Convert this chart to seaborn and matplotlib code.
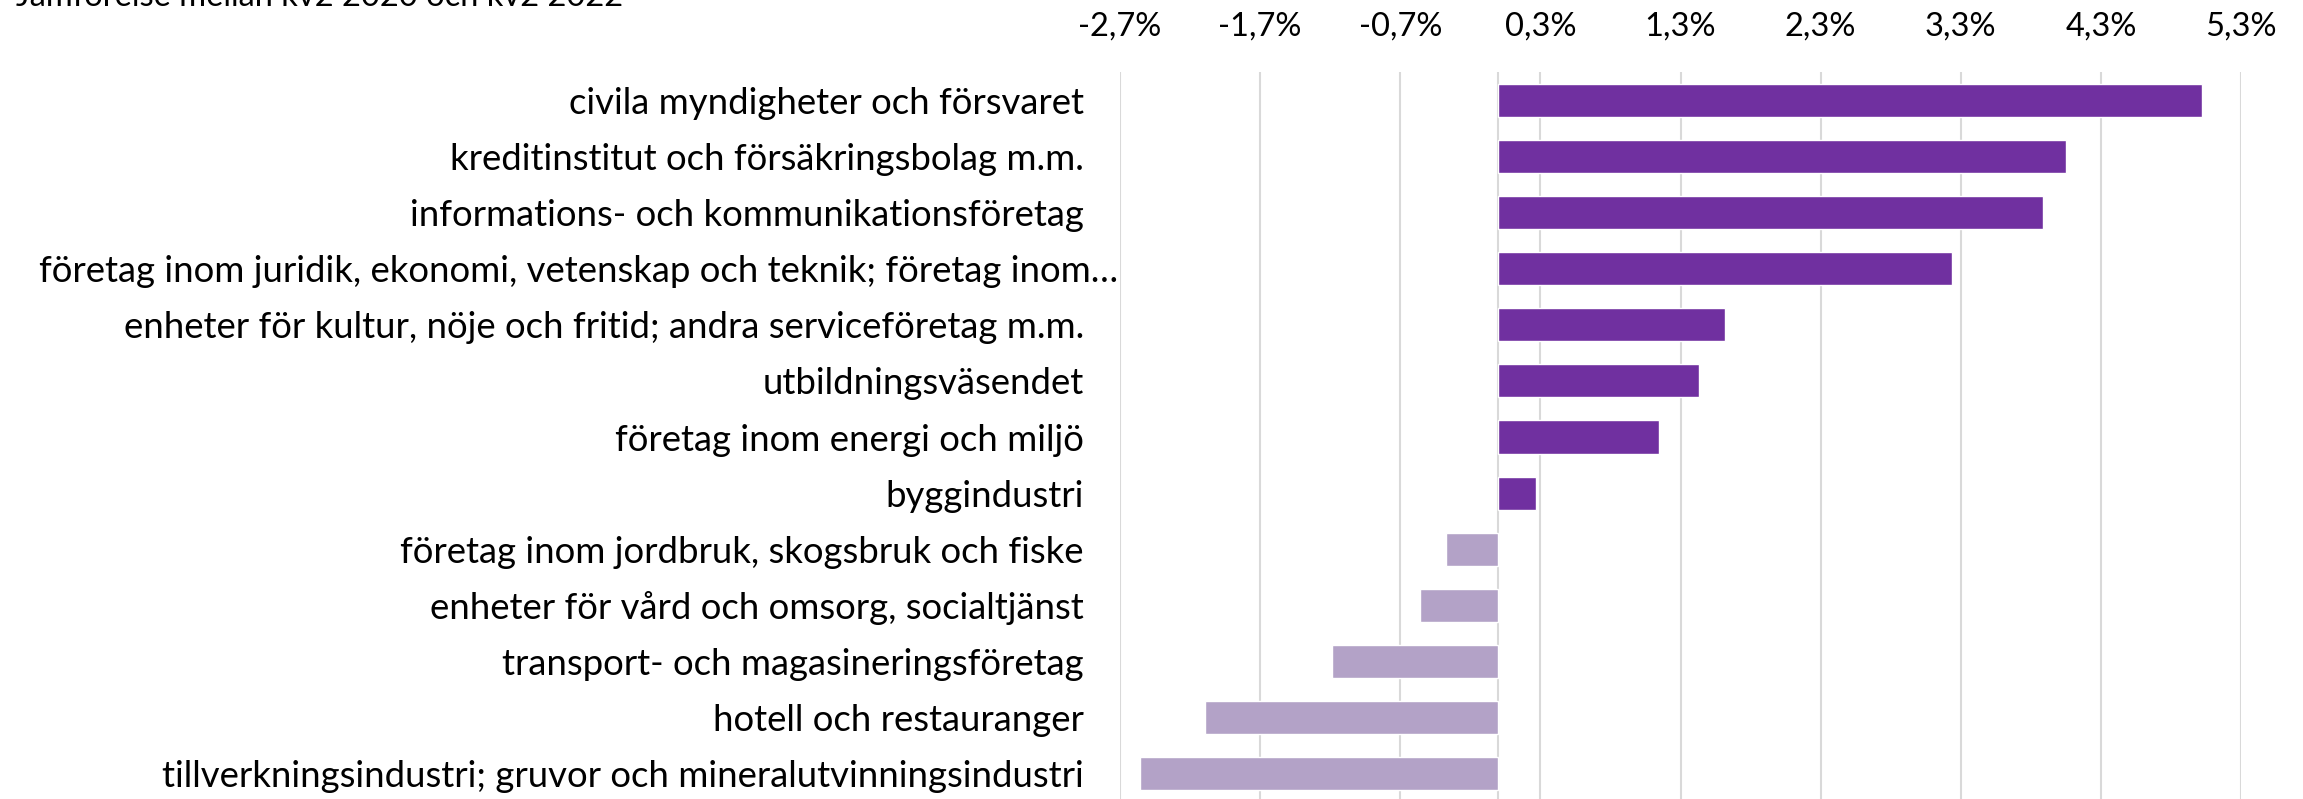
import matplotlib
matplotlib.use("Agg")
import matplotlib.pyplot as plt
from matplotlib.ticker import FixedLocator, FuncFormatter
import seaborn as sns
import pandas as pd

categories = [
    "civila myndigheter och försvaret",
    "kreditinstitut och försäkringsbolag m.m.",
    "informations- och kommunikationsföretag",
    "företag inom juridik, ekonomi, vetenskap och teknik; företag inom…",
    "enheter för kultur, nöje och fritid; andra serviceföretag m.m.",
    "utbildningsväsendet",
    "företag inom energi och miljö",
    "byggindustri",
    "företag inom jordbruk, skogsbruk och fiske",
    "enheter för vård och omsorg, socialtjänst",
    "transport- och magasineringsföretag",
    "hotell och restauranger",
    "tillverkningsindustri; gruvor och mineralutvinningsindustri",
]
values = [0.0502, 0.0405, 0.0389, 0.0324, 0.0162, 0.0143, 0.0115, 0.0027,
          -0.0037, -0.0056, -0.0119, -0.0209, -0.0256]
tick_values = [-0.027, -0.017, -0.007, 0.003, 0.013, 0.023, 0.033, 0.043, 0.053]
title = "Jämförelse mellan kv2 2020 och kv2 2022"

df = pd.DataFrame({"kategori": categories, "forandring": values})
df["tecken"] = ["pos" if v >= 0 else "neg" for v in values]

sns.set_theme(style="white")
plt.rcParams["font.family"] = ["Lato", "DejaVu Sans"]

W, H = 2303, 799
fig = plt.figure(figsize=(W / 100, H / 100), dpi=100)
ax = fig.add_axes([1120 / W, -3 / H, 1121 / W, 730 / H])

sns.barplot(data=df, x="forandring", y="kategori", hue="tecken",
            palette={"pos": "#7030A0", "neg": "#B3A2C7"}, dodge=False,
            width=0.59, orient="h", legend=False, ax=ax, saturation=1)

ax.set_xlim(-0.027, 0.053)
ax.set_ylim(len(categories) - 0.5, -0.5)
ax.xaxis.set_major_locator(FixedLocator(tick_values))
ax.xaxis.set_major_formatter(FuncFormatter(lambda v, p: f"{v*100:.1f}%".replace(".", ",")))
ax.xaxis.tick_top()
ax.grid(axis="x", color="#D9D9D9", linewidth=1.5)
ax.set_axisbelow(True)
ax.axvline(0, color="#D9D9D9", linewidth=1.5, zorder=0)
for s in ax.spines.values():
    s.set_visible(False)
ax.set_xlabel("")
ax.set_ylabel("")
ax.tick_params(axis="x", length=0, pad=22, labelsize=23.5, colors="#000000")
ax.tick_params(axis="y", length=0, pad=26, labelsize=26.3, colors="#000000")

# the truncated long label reaches almost to the plot area, as in the original
for tick, cat in zip(ax.yaxis.get_major_ticks(), categories):
    if cat.endswith("…"):
        tick.set_pad(1.5)

fig.text(16 / W, (H - 6) / H, title, fontsize=23.5, ha="left", va="baseline",
         color="#000000")

fig.savefig("out.png", dpi=100)
